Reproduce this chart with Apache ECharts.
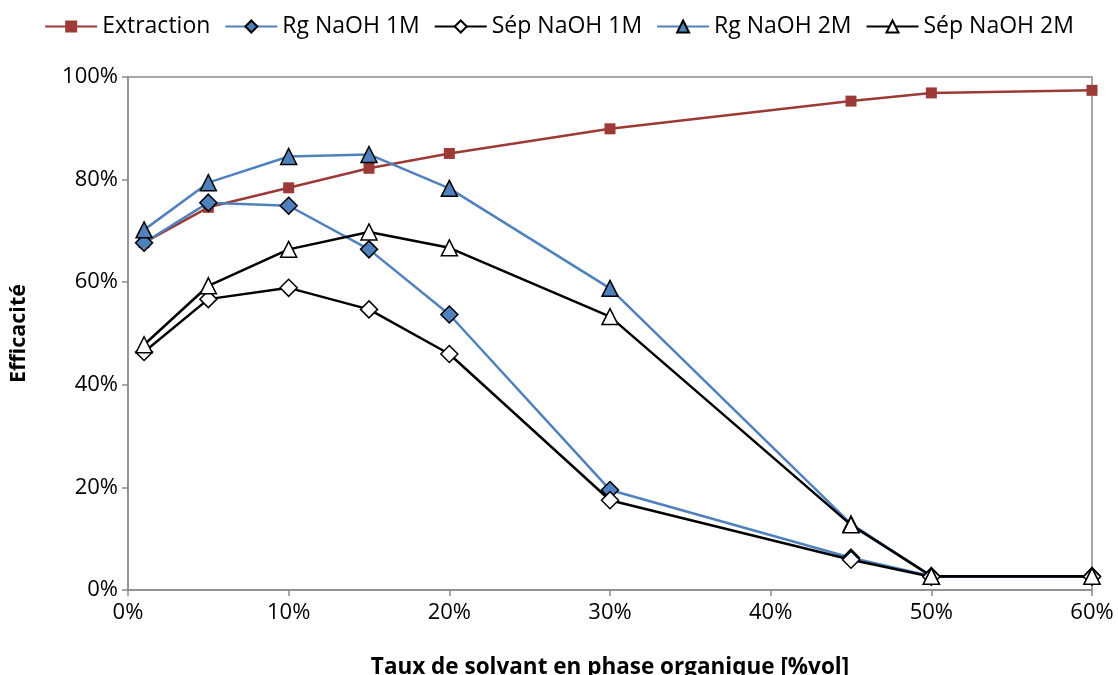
<!DOCTYPE html>
<html><head><meta charset="utf-8">
<script src="https://cdn.jsdelivr.net/npm/echarts@6/dist/echarts.min.js"></script>
<style>html,body{margin:0;padding:0;background:#fff}#c{width:1118px;height:675px}</style>
</head><body><div id="c"></div>
<script>
const xVals = [1, 5, 10, 15, 20, 30, 45, 50, 60];
const extraction = [67.7, 74.6, 78.4, 82.2, 85.1, 89.9, 95.3, 96.9, 97.4];
const rg1M = [67.7, 75.5, 74.9, 66.4, 53.7, 19.5, 6.3, 2.7, 2.7];
const sep1M = [46.4, 56.7, 58.9, 54.7, 46.0, 17.5, 5.9, 2.6, 2.6];
const rg2M = [70.2, 79.4, 84.5, 84.9, 78.3, 58.8, 12.9, 2.7, 2.7];
const sep2M = [47.8, 59.3, 66.4, 69.8, 66.7, 53.3, 12.7, 2.7, 2.7];
const seriesNames = ['Extraction', 'Rg NaOH 1M', 'Sép NaOH 1M', 'Rg NaOH 2M', 'Sép NaOH 2M'];

const pair = arr => xVals.map((x, i) => [x, arr[i]]);
const FONT = 'Open Sans';
const chart = echarts.init(document.getElementById('c'));
const mk = (name, data, color, lw, symbol, size, fill) => ({
  name, type: 'line', data: pair(data), symbol, symbolSize: size,
  lineStyle: { color, width: lw },
  itemStyle: { color: fill, borderColor: symbol === 'rect' ? fill : '#000', borderWidth: symbol === 'rect' ? 0 : 1.5 },
  emphasis: { disabled: true }, animation: false, z: 2
});
chart.setOption({
  animation: false,
  textStyle: { fontFamily: FONT, color: '#000' },
  legend: {
    top: 10, left: 'center', itemWidth: 52, itemHeight: 15, itemGap: 14,
    textStyle: { fontFamily: FONT, fontSize: 23, color: '#000' },
    data: seriesNames
  },
  grid: { left: 128, right: 26, top: 77, bottom: 85, outerBoundsMode: 'none', containLabel: false,
          show: true, borderColor: '#8c8c8c', borderWidth: 1.5 },
  xAxis: {
    type: 'value', min: 0, max: 60, interval: 10,
    name: 'Taux de solvant en phase organique [%vol]', nameLocation: 'middle', nameGap: 66,
    nameTextStyle: { fontFamily: FONT, fontSize: 22.5, fontWeight: 'bold', color: '#000' },
    axisLine: { lineStyle: { color: '#8c8c8c', width: 1.5 } },
    axisTick: { show: true, length: 6, lineStyle: { color: '#8c8c8c', width: 1.5 } },
    axisLabel: { formatter: '{value}%', fontSize: 22, color: '#000', margin: 12 },
    splitLine: { show: false }
  },
  yAxis: {
    type: 'value', min: 0, max: 100, interval: 20,
    name: 'Efficacité', nameLocation: 'middle', nameGap: 98, nameRotate: 90,
    nameTextStyle: { fontFamily: FONT, fontSize: 21.5, fontWeight: 'bold', color: '#000' },
    axisLine: { show: true, lineStyle: { color: '#8c8c8c', width: 1.5 } },
    axisTick: { show: true, length: 6, lineStyle: { color: '#8c8c8c', width: 1.5 } },
    axisLabel: { formatter: '{value}%', fontSize: 22, color: '#000', margin: 10 },
    splitLine: { show: false }
  },
  series: [
    mk(seriesNames[0], extraction, '#9b3a36', 2.5, 'rect', 11, '#9b3a36'),
    mk(seriesNames[1], rg1M, '#4f81bd', 2.5, 'diamond', 17, '#4f81bd'),
    mk(seriesNames[2], sep1M, '#000000', 2.5, 'diamond', 17, '#ffffff'),
    mk(seriesNames[3], rg2M, '#4f81bd', 2.5, 'triangle', 16, '#4f81bd'),
    mk(seriesNames[4], sep2M, '#000000', 2.5, 'triangle', 16, '#ffffff')
  ]
});
</script></body></html>
